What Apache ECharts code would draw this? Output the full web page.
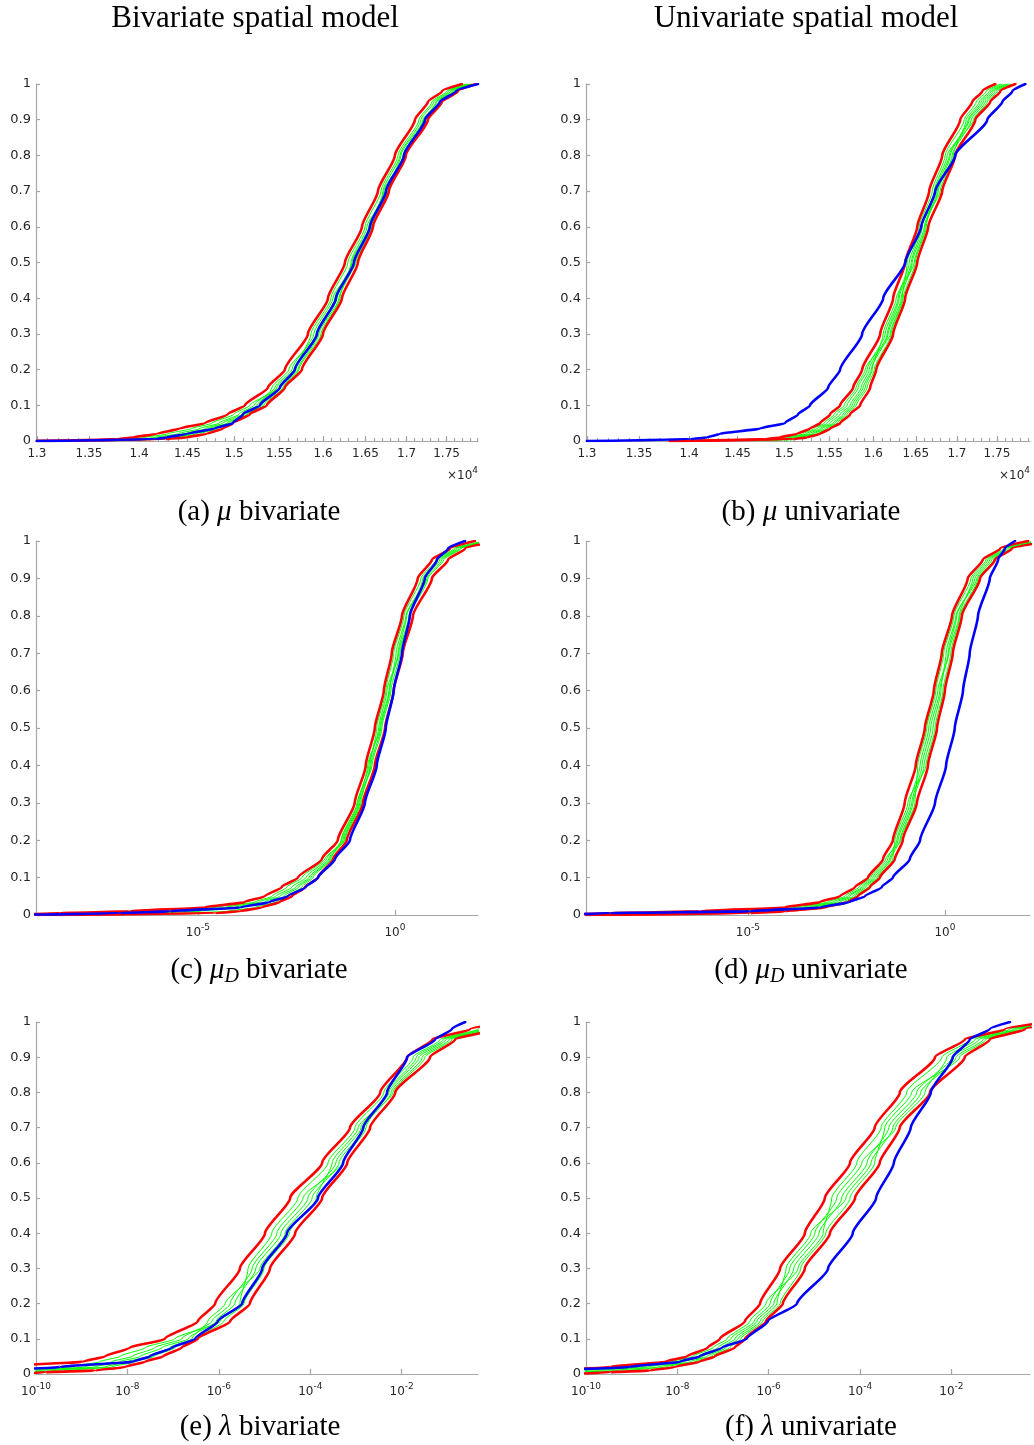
<!DOCTYPE html>
<html>
<head>
<meta charset="utf-8">
<script src="https://cdn.jsdelivr.net/npm/echarts@6/dist/echarts.min.js"></script>
<style>
  html, body { margin: 0; padding: 0; background: #ffffff; }
  #chart { width: 1034px; height: 1445px; }
</style>
</head>
<body>
<div id="chart"></div>
<script>
// Cumulative probability at which every empirical CDF below is sampled.
const cdfLevels = [0, 0.005, 0.01, 0.02, 0.035, 0.05, 0.075, 0.1, 0.15, 0.2, 0.3, 0.4, 0.5, 0.6, 0.7, 0.8, 0.9, 0.95, 0.98, 1];

// ---- (a) mu, bivariate model: quantiles in units of 10^4 ----
const muBivObserved = [1.3000, 1.4161, 1.4285, 1.4494, 1.4792, 1.4986, 1.5096, 1.5283, 1.5507, 1.5676, 1.5929, 1.6150, 1.6362, 1.6553, 1.6747, 1.6967, 1.7228, 1.7416, 1.7620, 1.7904];
const muBivEnvUpper = [1.3000, 1.3777, 1.3937, 1.4182, 1.4421, 1.4685, 1.4932, 1.5118, 1.5373, 1.5563, 1.5825, 1.6057, 1.6256, 1.6458, 1.6650, 1.6856, 1.7103, 1.7265, 1.7442, 1.7697];
const muBivEnvLower = [1.3000, 1.4264, 1.4494, 1.4706, 1.4878, 1.4986, 1.5173, 1.5361, 1.5563, 1.5756, 1.5999, 1.6221, 1.6410, 1.6590, 1.6783, 1.6991, 1.7265, 1.7442, 1.7645, 1.7878];
const muBivSims = [
  [1.3219, 1.3887, 1.4059, 1.4295, 1.4547, 1.4760, 1.4997, 1.5173, 1.5496, 1.5688, 1.5860, 1.6092, 1.6291, 1.6494, 1.6686, 1.6893, 1.7153, 1.7315, 1.7505, 1.7749],
  [1.3412, 1.3988, 1.4161, 1.4400, 1.4632, 1.4835, 1.5052, 1.5217, 1.5451, 1.5643, 1.5894, 1.6115, 1.6386, 1.6577, 1.6710, 1.6918, 1.7178, 1.7340, 1.7531, 1.7775],
  [1.3075, 1.4059, 1.4234, 1.4473, 1.4696, 1.4878, 1.5085, 1.5250, 1.5473, 1.5665, 1.5918, 1.6138, 1.6339, 1.6541, 1.6723, 1.6967, 1.7228, 1.7366, 1.7556, 1.7800],
  [1.3607, 1.4110, 1.4295, 1.4526, 1.4738, 1.4922, 1.5118, 1.5283, 1.5417, 1.5608, 1.5929, 1.6162, 1.6362, 1.6553, 1.6747, 1.6955, 1.7215, 1.7378, 1.7581, 1.7813],
  [1.3315, 1.4161, 1.4358, 1.4590, 1.4781, 1.4943, 1.5140, 1.5305, 1.5518, 1.5710, 1.5952, 1.6185, 1.6374, 1.6565, 1.6759, 1.6930, 1.7203, 1.7403, 1.7594, 1.7826],
  [1.3509, 1.4213, 1.4421, 1.4632, 1.4824, 1.4965, 1.5151, 1.5327, 1.5540, 1.5722, 1.5976, 1.6197, 1.6327, 1.6518, 1.6771, 1.6979, 1.7240, 1.7416, 1.7620, 1.7852]
];

// ---- (b) mu, univariate model: quantiles in units of 10^4 ----
const muUniObserved = [1.3000, 1.4008, 1.4182, 1.4316, 1.4738, 1.5008, 1.5151, 1.5283, 1.5485, 1.5620, 1.5871, 1.6115, 1.6374, 1.6565, 1.6735, 1.6979, 1.7378, 1.7569, 1.7697, 1.7865];
const muUniEnvUpper = [1.3806, 1.4792, 1.4954, 1.5140, 1.5283, 1.5395, 1.5507, 1.5620, 1.5768, 1.5871, 1.6080, 1.6232, 1.6374, 1.6518, 1.6662, 1.6820, 1.7041, 1.7190, 1.7315, 1.7480];
const muUniEnvLower = [1.3806, 1.5096, 1.5250, 1.5395, 1.5507, 1.5620, 1.5733, 1.5848, 1.5964, 1.6034, 1.6232, 1.6374, 1.6518, 1.6650, 1.6820, 1.6979, 1.7228, 1.7416, 1.7543, 1.7736];
const muUniSims = [
  [1.4685, 1.4900, 1.5041, 1.5206, 1.5327, 1.5440, 1.5552, 1.5665, 1.5802, 1.5906, 1.6197, 1.6339, 1.6398, 1.6541, 1.6698, 1.6856, 1.7091, 1.7240, 1.7366, 1.7543],
  [1.4792, 1.4932, 1.5074, 1.5239, 1.5361, 1.5473, 1.5586, 1.5699, 1.5825, 1.5929, 1.6138, 1.6291, 1.6422, 1.6565, 1.6795, 1.6955, 1.7115, 1.7278, 1.7403, 1.7569],
  [1.4954, 1.4976, 1.5118, 1.5272, 1.5395, 1.5507, 1.5620, 1.5733, 1.5860, 1.5952, 1.6162, 1.6303, 1.6446, 1.6577, 1.6735, 1.6906, 1.7140, 1.7303, 1.7429, 1.7607],
  [1.4868, 1.5019, 1.5151, 1.5305, 1.5417, 1.5541, 1.5654, 1.5756, 1.5883, 1.5976, 1.6173, 1.6327, 1.6458, 1.6602, 1.6759, 1.6918, 1.7153, 1.7328, 1.7454, 1.7633],
  [1.5008, 1.5063, 1.5184, 1.5327, 1.5451, 1.5563, 1.5676, 1.5779, 1.5906, 1.5987, 1.6115, 1.6268, 1.6482, 1.6614, 1.6771, 1.6942, 1.7178, 1.7353, 1.7480, 1.7658],
  [1.5063, 1.5085, 1.5217, 1.5361, 1.5473, 1.5586, 1.5699, 1.5802, 1.5929, 1.6010, 1.6209, 1.6350, 1.6494, 1.6626, 1.6723, 1.6881, 1.7203, 1.7378, 1.7505, 1.7684]
];

// ---- (c) mu_D, bivariate model: quantiles as log10 ----
const muDBivObservedLog10 = [-10.03, -6.98, -5.71, -3.93, -3.17, -2.72, -2.26, -1.95, -1.52, -1.14, -0.76, -0.46, -0.23, -0.03, 0.18, 0.38, 0.76, 1.07, 1.35, 1.78];
const muDBivEnvUpperLog10 = [-10.03, -8.50, -6.73, -4.82, -3.81, -3.30, -2.87, -2.46, -1.85, -1.45, -1.02, -0.74, -0.51, -0.28, -0.08, 0.18, 0.58, 0.94, 1.40, 2.03];
const muDBivEnvLowerLog10 = [-9.11, -4.57, -3.93, -3.38, -2.92, -2.61, -2.28, -1.95, -1.57, -1.22, -0.81, -0.51, -0.25, -0.03, 0.20, 0.46, 0.94, 1.35, 1.78, 2.66];
const muDBivSimsLog10 = [
  [-9.77, -7.99, -6.22, -4.57, -3.55, -3.12, -2.74, -2.36, -1.78, -1.27, -0.86, -0.63, -0.46, -0.23, -0.03, 0.23, 0.66, 1.04, 1.50, 2.28],
  [-9.52, -7.49, -5.71, -4.31, -3.43, -3.02, -2.61, -2.26, -1.73, -1.35, -0.94, -0.66, -0.41, -0.20, 0.10, 0.36, 0.71, 1.09, 1.55, 2.41],
  [-9.26, -6.73, -5.33, -4.06, -3.30, -2.92, -2.51, -2.18, -1.68, -1.32, -0.91, -0.69, -0.38, -0.15, 0.08, 0.30, 0.76, 1.14, 1.60, 2.46],
  [-9.11, -6.22, -4.95, -3.88, -3.17, -2.82, -2.44, -2.13, -1.65, -1.29, -0.89, -0.61, -0.36, -0.13, 0.03, 0.28, 0.81, 1.19, 1.65, 2.54],
  [-9.01, -5.20, -4.24, -3.55, -3.02, -2.72, -2.36, -2.08, -1.62, -1.37, -0.96, -0.58, -0.33, -0.10, 0.13, 0.38, 0.84, 1.24, 1.68, 2.36]
];

// ---- (d) mu_D, univariate model: quantiles as log10 ----
const muDUniObservedLog10 = [-10.03, -8.50, -4.95, -3.17, -2.41, -2.03, -1.60, -1.32, -0.89, -0.63, -0.25, 0.03, 0.25, 0.46, 0.63, 0.84, 1.14, 1.35, 1.52, 1.78];
const muDUniEnvUpperLog10 = [-10.03, -8.50, -6.22, -4.06, -3.17, -2.66, -2.28, -1.95, -1.57, -1.32, -1.02, -0.74, -0.51, -0.28, -0.08, 0.18, 0.58, 0.96, 1.40, 2.11];
const muDUniEnvLowerLog10 = [-9.11, -4.95, -4.06, -3.05, -2.46, -2.21, -1.90, -1.65, -1.27, -1.07, -0.71, -0.43, -0.20, 0.00, 0.20, 0.43, 0.89, 1.27, 1.70, 2.66];
const muDUniSimsLog10 = [
  [-9.77, -7.99, -5.71, -3.81, -2.97, -2.54, -2.18, -1.88, -1.50, -1.12, -0.76, -0.69, -0.46, -0.23, -0.03, 0.23, 0.66, 1.04, 1.50, 2.28],
  [-9.52, -7.23, -5.33, -3.63, -2.84, -2.46, -2.11, -1.83, -1.45, -1.22, -0.89, -0.63, -0.41, -0.18, 0.10, 0.36, 0.71, 1.09, 1.55, 2.41],
  [-9.26, -6.47, -4.95, -3.48, -2.74, -2.41, -2.06, -1.78, -1.40, -1.19, -0.84, -0.58, -0.36, -0.13, 0.08, 0.30, 0.76, 1.14, 1.60, 2.46],
  [-9.11, -5.96, -4.64, -3.35, -2.66, -2.33, -2.01, -1.73, -1.37, -1.14, -0.81, -0.53, -0.30, -0.10, 0.03, 0.28, 0.81, 1.19, 1.65, 2.54],
  [-9.01, -5.33, -4.31, -3.22, -2.56, -2.28, -1.95, -1.70, -1.32, -1.27, -0.94, -0.48, -0.25, -0.05, 0.15, 0.38, 0.84, 1.24, 1.68, 2.36]
];

// ---- (e) lambda, bivariate model: quantiles as log10 ----
const lambdaBivObservedLog10 = [-11.23, -11.01, -10.79, -9.47, -7.88, -7.51, -7.02, -6.52, -6.02, -5.49, -5.05, -4.51, -3.83, -3.28, -2.84, -2.32, -1.88, -1.27, -0.90, -0.61];
const lambdaBivEnvUpperLog10 = [-12.10, -11.66, -11.44, -11.01, -8.97, -8.49, -7.94, -7.18, -6.46, -6.08, -5.54, -4.99, -4.44, -3.74, -3.13, -2.47, -1.88, -1.33, -0.50, 0.37];
const lambdaBivEnvLowerLog10 = [-10.35, -9.80, -8.71, -8.05, -7.61, -7.22, -6.81, -6.46, -5.75, -5.32, -4.88, -4.33, -3.74, -3.19, -2.69, -2.14, -1.38, -0.83, 0.04, 1.03];
const lambdaBivSimsLog10 = [
  [-11.44, -11.01, -10.57, -9.26, -8.60, -8.16, -7.61, -6.96, -5.97, -5.54, -5.36, -4.84, -4.27, -3.61, -3.02, -2.39, -1.75, -1.16, -0.33, 0.48],
  [-11.23, -10.79, -10.24, -8.93, -8.34, -7.90, -7.40, -6.81, -6.15, -5.75, -5.27, -4.73, -4.16, -3.30, -2.78, -2.32, -1.68, -1.09, -0.28, 0.55],
  [-11.01, -10.57, -9.91, -8.71, -8.16, -7.72, -7.24, -6.67, -6.06, -5.65, -5.19, -4.64, -4.05, -3.44, -2.89, -2.28, -1.62, -1.03, -0.20, 0.63],
  [-10.79, -10.24, -9.58, -8.49, -7.99, -7.55, -7.07, -6.59, -6.24, -5.86, -5.10, -4.55, -3.96, -3.37, -2.82, -2.23, -1.55, -0.96, -0.13, 0.72],
  [-10.57, -10.02, -9.26, -8.34, -7.83, -7.42, -6.96, -6.52, -5.89, -5.45, -5.01, -4.46, -3.87, -3.52, -2.95, -2.19, -1.49, -0.90, -0.07, 0.81]
];

// ---- (f) lambda, univariate model: quantiles as log10 ----
const lambdaUniObservedLog10 = [-11.44, -11.12, -10.79, -9.04, -7.94, -7.51, -7.02, -6.48, -6.02, -5.38, -4.70, -4.16, -3.65, -3.26, -2.89, -2.45, -1.97, -1.60, -1.16, -0.72];
const lambdaUniEnvUpperLog10 = [-11.66, -11.23, -10.79, -9.47, -8.27, -7.79, -7.33, -7.07, -6.52, -6.19, -5.75, -5.21, -4.77, -4.22, -3.68, -3.13, -2.36, -1.71, -0.83, 0.15];
const lambdaUniEnvLowerLog10 = [-10.35, -9.47, -8.60, -8.05, -7.51, -7.18, -6.74, -6.52, -6.06, -5.69, -5.21, -4.66, -4.11, -3.57, -3.13, -2.47, -1.71, -1.16, -0.39, 0.59];
const lambdaUniSimsLog10 = [
  [-11.33, -10.90, -10.35, -9.15, -8.12, -7.66, -7.22, -6.91, -6.41, -6.06, -5.36, -4.81, -4.62, -4.07, -3.54, -2.98, -2.21, -1.60, -0.72, 0.26],
  [-11.12, -10.68, -10.02, -8.86, -7.99, -7.55, -7.11, -6.83, -6.32, -5.97, -5.54, -4.99, -4.51, -3.96, -3.22, -2.58, -2.10, -1.49, -0.63, 0.33],
  [-10.90, -10.46, -9.69, -8.64, -7.86, -7.44, -7.02, -6.74, -6.26, -5.89, -5.45, -4.90, -4.40, -3.85, -3.37, -2.76, -1.99, -1.40, -0.57, 0.42],
  [-10.68, -10.13, -9.37, -8.42, -7.72, -7.35, -6.94, -6.67, -6.19, -5.82, -5.62, -5.08, -4.31, -3.76, -3.28, -2.67, -1.90, -1.31, -0.50, 0.48],
  [-10.46, -9.80, -9.04, -8.27, -7.61, -7.26, -6.85, -6.61, -6.13, -5.75, -5.30, -4.75, -4.22, -3.68, -3.46, -2.87, -1.82, -1.25, -0.46, 0.55]
];

// ---- axis extents and tick marks ----
const muBivRange = [1.2991, 1.7904];          // x 10^4
const muUniRange = [1.2991, 1.7925];          // x 10^4
const muDBivRangeLog10 = [-9.11, 2.11];
const muDUniRangeLog10 = [-9.11, 2.16];
const lambdaBivRangeLog10 = [-10, -0.33];
const lambdaUniRangeLog10 = [-10, -0.28];
const muTickLabels = [1.3, 1.35, 1.4, 1.45, 1.5, 1.55, 1.6, 1.65, 1.7, 1.75];
const muDTickExponents = [-5, 0];
const lambdaTickExponents = [-10, -8, -6, -4, -2];
const muMinorTicks = [];
for (let k = 130; k <= 179; k++) muMinorTicks.push(k / 100);

// ---- styling ----
const SANS = 'DejaVu Sans';
const SERIF = 'Liberation Serif';
const AXIS_GRAY = '#a6a6a6';
const INK = '#262626';
const SIM_STYLE = { color: '#00ff00', width: 1 };
const ENV_STYLE = { color: '#ff0000', width: 2.6 };
const OBS_STYLE = { color: '#0000ff', width: 2.6 };

const panels = [
  { box: { left: 36, top: 84, width: 442, height: 357 }, range: muBivRange.map(Math.log10), linearData: true,
    major: muTickLabels.map(Math.log10), minor: muMinorTicks.map(Math.log10),
    observed: muBivObserved, envelope: [muBivEnvUpper, muBivEnvLower], sims: muBivSims,
    caption: '{t|(a) }{m|\u03bc}{t| bivariate}', captionX: 259, captionY: 512 },
  { box: { left: 586, top: 84, width: 444, height: 357 }, range: muUniRange.map(Math.log10), linearData: true,
    major: muTickLabels.map(Math.log10), minor: muMinorTicks.map(Math.log10),
    observed: muUniObserved, envelope: [muUniEnvUpper, muUniEnvLower], sims: muUniSims,
    caption: '{t|(b) }{m|\u03bc}{t| univariate}', captionX: 811, captionY: 512 },
  { box: { left: 36, top: 541, width: 442, height: 374 }, range: muDBivRangeLog10, linearData: false,
    major: muDTickExponents,
    observed: muDBivObservedLog10, envelope: [muDBivEnvUpperLog10, muDBivEnvLowerLog10], sims: muDBivSimsLog10,
    caption: '{t|(c) }{m|\u03bc}{d|D}{t| bivariate}', captionX: 259, captionY: 970 },
  { box: { left: 586, top: 541, width: 444, height: 374 }, range: muDUniRangeLog10, linearData: false,
    major: muDTickExponents,
    observed: muDUniObservedLog10, envelope: [muDUniEnvUpperLog10, muDUniEnvLowerLog10], sims: muDUniSimsLog10,
    caption: '{t|(d) }{m|\u03bc}{d|D}{t| univariate}', captionX: 811, captionY: 970 },
  { box: { left: 36, top: 1022, width: 442, height: 352 }, range: lambdaBivRangeLog10, linearData: false,
    major: lambdaTickExponents,
    observed: lambdaBivObservedLog10, envelope: [lambdaBivEnvUpperLog10, lambdaBivEnvLowerLog10], sims: lambdaBivSimsLog10,
    caption: '{t|(e) }{m|\u03bb}{t| bivariate}', captionX: 260, captionY: 1427 },
  { box: { left: 586, top: 1022, width: 444, height: 352 }, range: lambdaUniRangeLog10, linearData: false,
    major: lambdaTickExponents,
    observed: lambdaUniObservedLog10, envelope: [lambdaUniEnvUpperLog10, lambdaUniEnvLowerLog10], sims: lambdaUniSimsLog10,
    caption: '{t|(f) }{m|\u03bb}{t| univariate}', captionX: 811, captionY: 1427 }
];

const grid = [], xAxis = [], yAxis = [], series = [], graphic = [];

const axisLineStyle = { color: AXIS_GRAY, width: 1.2 };

panels.forEach((p, gi) => {
  grid.push(Object.assign({ containLabel: false, outerBoundsMode: 'none' }, p.box));

  // mu is placed on a log10 scale here; mu_D and lambda are stored as log10 already
  const toScale = p.linearData ? Math.log10 : (v => v);

  const labelCfg = p.linearData
    ? { customValues: p.major, fontFamily: SANS, fontSize: 12, color: INK, margin: 7,
        formatter: v => String(parseFloat(Math.pow(10, v).toFixed(2))) }
    : { customValues: p.major, margin: 8,
        formatter: v => '{b|10}{s|' + Math.round(v) + '}',
        rich: {
          b: { fontFamily: SANS, fontSize: 12, color: INK },
          s: { fontFamily: SANS, fontSize: 9, color: INK, padding: [0, 0, 11, 0] }
        } };

  const xi = xAxis.length;
  xAxis.push({
    gridIndex: gi, type: 'value', position: 'bottom', min: p.range[0], max: p.range[1],
    axisLine: { show: true, onZero: false, lineStyle: axisLineStyle },
    axisTick: { show: true, inside: true, length: 5, customValues: p.major, lineStyle: axisLineStyle },
    axisLabel: labelCfg,
    splitLine: { show: false }, minorTick: { show: false }
  });
  if (p.minor) {
    xAxis.push({
      gridIndex: gi, type: 'value', position: 'bottom', min: p.range[0], max: p.range[1],
      axisLine: { show: false, onZero: false },
      axisTick: { show: true, inside: true, length: 3, customValues: p.minor, lineStyle: axisLineStyle },
      axisLabel: { show: false },
      splitLine: { show: false }
    });
  }
  yAxis.push({
    gridIndex: gi, type: 'value', min: 0, max: 1, interval: 0.1,
    axisLine: { show: true, onZero: false, lineStyle: axisLineStyle },
    axisTick: { show: true, inside: true, length: 4, lineStyle: axisLineStyle },
    axisLabel: { fontFamily: SANS, fontSize: 13, color: INK, margin: 5 },
    splitLine: { show: false }
  });

  const addCurve = (values, style, z) => {
    series.push({
      type: 'line', xAxisIndex: xi, yAxisIndex: gi, z: z,
      data: values.map((v, i) => [toScale(v), cdfLevels[i]]),
      symbol: 'none', showSymbol: false, clip: true, silent: true,
      smooth: 0.2, smoothMonotone: 'y',
      lineStyle: { color: style.color, width: style.width, cap: 'round', join: 'round' }
    });
  };
  p.sims.forEach(s => addCurve(s, SIM_STYLE, 2));
  p.envelope.forEach(s => addCurve(s, ENV_STYLE, 3));
  addCurve(p.observed, OBS_STYLE, 4);

  graphic.push({
    type: 'text', x: p.captionX, y: p.captionY, silent: true,
    style: {
      text: p.caption, align: 'center', verticalAlign: 'middle',
      rich: {
        t: { fontFamily: SERIF, fontSize: 29, fill: '#000' },
        m: { fontFamily: SERIF, fontSize: 29, fontStyle: 'italic', fill: '#000' },
        d: { fontFamily: SERIF, fontSize: 20, fontStyle: 'italic', fill: '#000', padding: [13, 0, 0, 0] }
      }
    }
  });
  if (p.linearData) {
    graphic.push({
      type: 'text', x: p.box.left + p.box.width, y: 476, silent: true,
      style: {
        text: '{t|\u00d710}{s|4}', align: 'right', verticalAlign: 'middle',
        rich: {
          t: { fontFamily: SANS, fontSize: 12, fill: INK },
          s: { fontFamily: SANS, fontSize: 9, fill: INK, padding: [0, 0, 10, 0] }
        }
      }
    });
  }
});

graphic.push(
  { type: 'text', x: 255, y: 19, silent: true,
    style: { text: 'Bivariate spatial model', align: 'center', verticalAlign: 'middle', fontFamily: SERIF, fontSize: 31, fill: '#000' } },
  { type: 'text', x: 806, y: 19, silent: true,
    style: { text: 'Univariate spatial model', align: 'center', verticalAlign: 'middle', fontFamily: SERIF, fontSize: 31, fill: '#000' } }
);

const chart = echarts.init(document.getElementById('chart'), null, { renderer: 'canvas', width: 1034, height: 1445 });
chart.setOption({
  animation: false,
  backgroundColor: '#ffffff',
  grid: grid,
  xAxis: xAxis,
  yAxis: yAxis,
  series: series,
  graphic: graphic
});
</script>
</body>
</html>
